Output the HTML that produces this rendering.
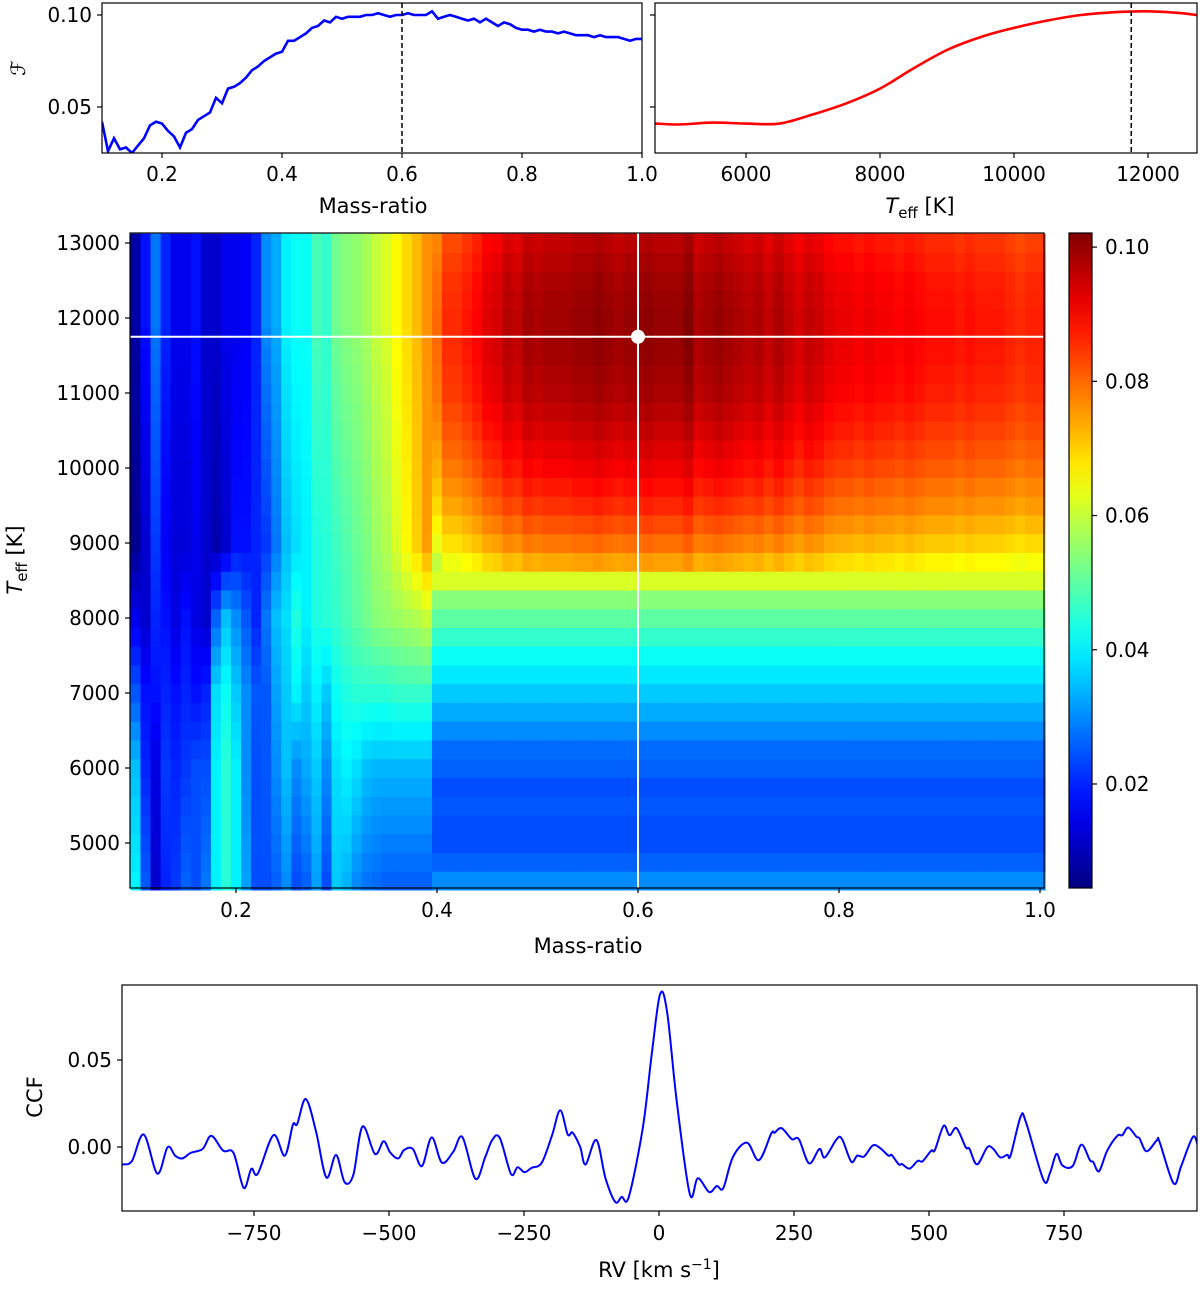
<!DOCTYPE html>
<html><head><meta charset="utf-8"><style>
html,body{margin:0;padding:0;background:#fff}
svg text{font-family:"DejaVu Sans","Liberation Sans",sans-serif;fill:#000}
</style></head><body>
<svg id="fig" width="1200" height="1284" viewBox="0 0 1200 1284" xmlns="http://www.w3.org/2000/svg"></svg>
<script>
// ---- top-left: F vs mass ratio ----
const qCurveQ=[0.10,0.11,0.12,0.13,0.14,0.15,0.16,0.17,0.18,0.19,0.20,0.21,0.22,0.23,0.24,0.25,0.26,0.27,0.28,0.29,0.30,0.31,0.32,0.33,0.34,0.35,0.36,0.37,0.38,0.39,0.40,0.41,0.42,0.43,0.44,0.45,0.46,0.47,0.48,0.49,0.50,0.51,0.52,0.53,0.54,0.55,0.56,0.57,0.58,0.59,0.60,0.61,0.62,0.63,0.64,0.65,0.66,0.67,0.68,0.69,0.70,0.71,0.72,0.73,0.74,0.75,0.76,0.77,0.78,0.79,0.80,0.81,0.82,0.83,0.84,0.85,0.86,0.87,0.88,0.89,0.90,0.91,0.92,0.93,0.94,0.95,0.96,0.97,0.98,0.99,1.00];
const qCurveF=[0.042,0.026,0.033,0.027,0.028,0.025,0.029,0.033,0.040,0.042,0.041,0.037,0.034,0.028,0.036,0.038,0.043,0.045,0.047,0.055,0.052,0.060,0.061,0.063,0.066,0.070,0.072,0.075,0.077,0.079,0.080,0.086,0.086,0.088,0.090,0.093,0.094,0.097,0.096,0.099,0.098,0.099,0.099,0.099,0.100,0.100,0.101,0.100,0.099,0.100,0.100,0.101,0.100,0.100,0.100,0.102,0.098,0.099,0.100,0.099,0.098,0.097,0.098,0.096,0.098,0.096,0.094,0.096,0.095,0.093,0.092,0.092,0.091,0.092,0.091,0.091,0.090,0.091,0.090,0.089,0.089,0.089,0.088,0.089,0.088,0.088,0.088,0.087,0.086,0.087,0.087];
// ---- top-right: F vs Teff ----
const tCurveT=[4650,5000,5500,6000,6500,7000,7500,8000,8500,9000,9500,10000,10500,11000,11500,12000,12500,13000];
const tCurveF=[0.041,0.0405,0.0415,0.041,0.041,0.046,0.052,0.060,0.071,0.081,0.088,0.093,0.097,0.100,0.1015,0.102,0.101,0.0985];
// ---- heatmap: low mass-ratio columns (q 0.10..0.39) at anchor temperatures ----
const anchorT=[4500,6000,7000,8000,9000,12000,13000];
const colAt4500=[0.040,0.025,0.012,0.020,0.022,0.026,0.024,0.028,0.040,0.045,0.040,0.032,0.024,0.024,0.026,0.030,0.024,0.026,0.032,0.024,0.036,0.034,0.030,0.028,0.027,0.026,0.026,0.026,0.026,0.026];
const colAt6000=[0.035,0.020,0.014,0.022,0.020,0.022,0.024,0.024,0.040,0.045,0.040,0.030,0.024,0.025,0.030,0.035,0.030,0.033,0.036,0.030,0.038,0.040,0.038,0.035,0.034,0.034,0.034,0.034,0.034,0.034];
const colAt7000=[0.025,0.018,0.018,0.020,0.018,0.020,0.018,0.020,0.038,0.042,0.036,0.030,0.025,0.025,0.032,0.036,0.040,0.036,0.040,0.036,0.042,0.044,0.045,0.045,0.045,0.045,0.046,0.046,0.046,0.046];
const colAt8000=[0.015,0.012,0.020,0.018,0.014,0.018,0.014,0.012,0.026,0.035,0.030,0.025,0.020,0.028,0.035,0.038,0.044,0.040,0.044,0.045,0.046,0.048,0.050,0.052,0.054,0.055,0.056,0.057,0.058,0.060];
const colAt9000=[0.006,0.012,0.022,0.016,0.013,0.013,0.015,0.012,0.009,0.012,0.018,0.018,0.020,0.022,0.028,0.035,0.038,0.040,0.044,0.045,0.047,0.049,0.051,0.053,0.056,0.058,0.062,0.066,0.070,0.075];
const colAt12000=[0.008,0.018,0.028,0.020,0.015,0.015,0.018,0.012,0.012,0.015,0.015,0.016,0.020,0.030,0.033,0.040,0.042,0.042,0.048,0.046,0.052,0.054,0.055,0.057,0.060,0.062,0.066,0.069,0.072,0.076];
// ---- heatmap: low-Teff rows for q >= 0.40 ----
const lowRowT=[4500,4750,5000,5250,5500,5750,6000,6250,6500,6750,7000,7250,7500,7750,8000,8250,8500];
const lowRowF=[0.030,0.026,0.024,0.024,0.025,0.024,0.026,0.027,0.030,0.033,0.036,0.039,0.042,0.046,0.050,0.054,0.062];
const bestQ=0.6, bestT=11750;
// ---- CCF ----
const rvVals=[-995,-992,-976,-954,-929,-910,-896,-883,-867,-845,-829,-807,-788,-769,-755,-743,-714,-693,-678,-670,-654,-635,-616,-598,-582,-566,-549,-526,-510,-498,-483,-472,-456,-439,-421,-402,-381,-364,-340,-322,-309,-295,-274,-262,-249,-236,-217,-198,-183,-169,-160,-146,-136,-116,-99,-81,-69,-56,-30,-13,2,15,33,57,72,93,107,119,137,163,185,208,214,227,246,259,278,297,307,329,339,356,367,380,396,409,425,431,444,450,464,479,488,504,511,527,538,551,568,575,589,608,619,632,645,651,670,680,712,724,736,747,766,782,798,804,815,830,849,858,869,884,890,903,922,927,953,967,989,999];
const ccfVals=[-0.010,-0.0100,-0.0080,0.0072,-0.0153,-0.0001,-0.0050,-0.0066,-0.0034,-0.0011,0.0065,-0.0021,-0.0034,-0.0235,-0.0126,-0.0153,0.0068,-0.0050,0.0128,0.0132,0.0276,0.0088,-0.0175,-0.0046,-0.0203,-0.0159,0.0118,-0.0040,0.0033,-0.0031,-0.0066,-0.0017,-0.0011,-0.0110,0.0055,-0.0090,-0.0027,0.0057,-0.0183,-0.0060,0.0039,0.0053,-0.0155,-0.0116,-0.0145,-0.0120,-0.0090,0.0068,0.0211,0.0072,0.0082,0.0,-0.0100,0.0040,-0.0180,-0.0316,-0.0287,-0.0287,0.0110,0.0546,0.0879,0.0776,0.0259,-0.0270,-0.0180,-0.0259,-0.0224,-0.0236,-0.0057,0.0025,-0.0076,0.0078,0.0082,0.0108,0.0045,0.0045,-0.0094,-0.0011,-0.0060,0.0045,0.0045,-0.0084,-0.0050,-0.0054,0.0009,-0.0005,-0.0050,-0.0046,-0.0100,-0.0098,-0.0124,-0.0080,-0.0082,-0.0021,-0.0017,0.0122,0.0068,0.0108,-0.0001,-0.0011,-0.0100,-0.0001,-0.0011,-0.0060,-0.0044,-0.0050,0.0177,0.0138,-0.0189,-0.0149,-0.0040,-0.0106,-0.0110,0.0013,-0.0076,-0.0086,-0.0139,-0.0021,0.0065,0.0068,0.0112,0.0059,0.0049,-0.0025,0.0039,0.0029,-0.0209,-0.0110,0.0059,-0.0011];

const svg=document.getElementById('fig');
const NS='http://www.w3.org/2000/svg';
function mk(tag,attrs,parent){const e=document.createElementNS(NS,tag);for(const k in attrs)e.setAttribute(k,attrs[k]);(parent||svg).appendChild(e);return e;}
function txt(s,x,y,anchor,size,parent,rot){const t=mk('text',{x:x,y:y,'text-anchor':anchor,'font-size':size},parent);if(rot)t.setAttribute('transform','rotate(-90 '+x+' '+y+')');t.textContent=s;return t;}
function lin(d0,d1,p0,p1){return v=>p0+(v-d0)*(p1-p0)/(d1-d0);}
function interp(xs,ys,x){if(x<=xs[0])return ys[0];for(let i=1;i<xs.length;i++){if(x<=xs[i]){const t=(x-xs[i-1])/(xs[i]-xs[i-1]);return ys[i-1]+t*(ys[i]-ys[i-1]);}}return ys[ys.length-1];}
function jet(t){t=Math.max(0,Math.min(1,t));const c=v=>Math.round(255*Math.max(0,Math.min(1,v)));return 'rgb('+c(1.5-Math.abs(4*t-3))+','+c(1.5-Math.abs(4*t-2))+','+c(1.5-Math.abs(4*t-1))+')';}
function smoothPath(pts){let d='M'+pts[0][0].toFixed(1)+','+pts[0][1].toFixed(1);for(let i=0;i<pts.length-1;i++){const p0=pts[Math.max(0,i-1)],p1=pts[i],p2=pts[i+1],p3=pts[Math.min(pts.length-1,i+2)];const c1=[p1[0]+(p2[0]-p0[0])/6,p1[1]+(p2[1]-p0[1])/6],c2=[p2[0]-(p3[0]-p1[0])/6,p2[1]-(p3[1]-p1[1])/6];d+='C'+c1[0].toFixed(1)+','+c1[1].toFixed(1)+' '+c2[0].toFixed(1)+','+c2[1].toFixed(1)+' '+p2[0].toFixed(1)+','+p2[1].toFixed(1);}return d;}

// ===== Panel 1 =====
const p1=mk('g',{});


const X1=lin(0.1,1.0,102,642), Y1=lin(0.05,0.10,107,15);
let cp=mk('clipPath',{id:'c1'},p1);mk('rect',{x:102,y:3,width:540,height:150},cp);
const l1=mk('polyline',{points:qCurveQ.map((q,i)=>X1(q).toFixed(1)+','+Y1(qCurveF[i]).toFixed(1)).join(' '),fill:'none',stroke:'#0000ff','stroke-width':2.6,'clip-path':'url(#c1)'},p1);


const d1=mk('line',{x1:X1(bestQ),x2:X1(bestQ),y1:3,y2:153,stroke:'#000','stroke-width':1.5,'stroke-dasharray':'5,3'},p1);


mk('rect',{x:102,y:3,width:540,height:150,fill:'none',stroke:'#000','stroke-width':1.2},p1);
[0.2,0.4,0.6,0.8,1.0].forEach(v=>{const x=X1(v);mk('line',{x1:x,x2:x,y1:153,y2:158,stroke:'#000','stroke-width':1.2},p1);const t=txt(v.toFixed(1),x,181,'middle',20,p1);});
[[0.05,'0.05'],[0.10,'0.10']].forEach(([v,s])=>{const y=Y1(v);mk('line',{x1:97,x2:102,y1:y,y2:y,stroke:'#000','stroke-width':1.2},p1);const t=txt(s,92,y+7,'end',20,p1);});
let t1=txt('Mass-ratio',373,213,'middle',21,p1);
let t1y=txt('ℱ',25,68,'middle',20,p1,true);t1y.setAttribute('font-style','italic');

// ===== Panel 2 =====
const p2=mk('g',{});


const X2=lin(6000,12000,746,1148);
cp=mk('clipPath',{id:'c2'},p2);mk('rect',{x:655,y:3,width:542,height:150},cp);
const l2=mk('path',{d:smoothPath(tCurveT.map((t,i)=>[X2(t),Y1(tCurveF[i])])),fill:'none',stroke:'#ff0000','stroke-width':2.6,'clip-path':'url(#c2)'},p2);


const d2=mk('line',{x1:X2(bestT),x2:X2(bestT),y1:3,y2:153,stroke:'#000','stroke-width':1.5,'stroke-dasharray':'5,3'},p2);


mk('rect',{x:655,y:3,width:542,height:150,fill:'none',stroke:'#000','stroke-width':1.2},p2);
[6000,8000,10000,12000].forEach(v=>{const x=X2(v);mk('line',{x1:x,x2:x,y1:153,y2:158,stroke:'#000','stroke-width':1.2},p2);const t=txt(String(v),x,181,'middle',20,p2);});
[0.05,0.10].forEach(v=>{const y=Y1(v);mk('line',{x1:650,x2:655,y1:y,y2:y,stroke:'#000','stroke-width':1.2},p2);});
let t2=mk('text',{x:920,y:213,'text-anchor':'middle','font-size':21},p2);
t2.innerHTML='<tspan font-style="italic">T</tspan><tspan font-size="15" dy="5">eff</tspan><tspan dy="-5"> [K]</tspan>';


// ===== Heatmap =====
const p3=mk('g',{});


const X3=lin(0.6,1.0,638,1040), Y3=lin(5000,13000,843,243);
const vmin=0.0045,vmax=0.1021;
function cellVal(q,T){
  const i=Math.round((q-0.10)*100);
  if(i<colAt4500.length){
    return interp(anchorT,[colAt4500[i],colAt6000[i],colAt7000[i],colAt8000[i],colAt9000[i],colAt12000[i],colAt12000[i]],T);
  }
  if(T>=8750){return interp(qCurveQ,qCurveF,q)*interp(tCurveT,tCurveF,T)/0.102;}
  return interp(lowRowT,lowRowF,T);
}
const cells=mk('g',{},p3);
for(let i=0;i<qCurveQ.length;i++){const q=qCurveQ[i];
  for(let T=4500;T<=13000;T+=250){
    const x0=X3(q-0.005),x1=X3(q+0.005),y0=Y3(T+125),y1=Y3(T-125);
    const r=mk('rect',{x:x0.toFixed(2),y:y0.toFixed(2),width:(x1-x0+0.6).toFixed(2),height:(y1-y0+0.6).toFixed(2),fill:jet((cellVal(q,T)-vmin)/(vmax-vmin))},cells);
    
    
  }}
const hx=X3(bestQ),hy=Y3(bestT);
mk('line',{x1:X3(0.0945),x2:X3(1.004),y1:hy,y2:hy,stroke:'#fff','stroke-width':2},p3);
mk('line',{x1:hx,x2:hx,y1:233,y2:888,stroke:'#fff','stroke-width':2},p3);
const dot=mk('circle',{cx:hx,cy:hy,r:7,fill:'#fff'},p3);


mk('rect',{x:130,y:233,width:914,height:655,fill:'none',stroke:'#000','stroke-width':1.2},p3);
[0.2,0.4,0.6,0.8,1.0].forEach(v=>{const x=X3(v);mk('line',{x1:x,x2:x,y1:888,y2:893,stroke:'#000','stroke-width':1.2},p3);const t=txt(v.toFixed(1),x,917,'middle',20,p3);});
for(let v=5000;v<=13000;v+=1000){const y=Y3(v);mk('line',{x1:125,x2:130,y1:y,y2:y,stroke:'#000','stroke-width':1.2},p3);const t=txt(String(v),120,y+7,'end',20,p3);}
let t3=txt('Mass-ratio',588,953,'middle',21,p3);
let t3y=mk('text',{x:22,y:560,'text-anchor':'middle','font-size':21,transform:'rotate(-90 22 560)'},p3);
t3y.innerHTML='<tspan font-style="italic">T</tspan><tspan font-size="15" dy="5">eff</tspan><tspan dy="-5"> [K]</tspan>';

// colorbar
const cb=mk('g',{},p3);


const defs=mk('defs',{},cb);const gr=mk('linearGradient',{id:'jg',x1:0,y1:1,x2:0,y2:0},defs);
for(let k=0;k<=20;k++)mk('stop',{offset:(k/20),'stop-color':jet(k/20)},gr);
mk('rect',{x:1069,y:233,width:23,height:655,fill:'url(#jg)',stroke:'#000','stroke-width':1.2},cb);
const YC=lin(vmin,vmax,888,233);
[0.02,0.04,0.06,0.08,0.10].forEach(v=>{const y=YC(v);mk('line',{x1:1092,x2:1097,y1:y,y2:y,stroke:'#000','stroke-width':1.2},cb);const t=txt(v.toFixed(2),1105,y+7,'start',20,cb);});

// ===== CCF =====
const p4=mk('g',{});


const X4=lin(-750,750,254,1064), Y4=lin(0,0.05,1147,1060);
cp=mk('clipPath',{id:'c4'},p4);mk('rect',{x:122,y:985,width:1075,height:226},cp);
const l4=mk('path',{d:smoothPath(rvVals.map((r,i)=>[X4(r),Y4(ccfVals[i])])),fill:'none',stroke:'#0000ff','stroke-width':2,'clip-path':'url(#c4)'},p4);


mk('rect',{x:122,y:985,width:1075,height:226,fill:'none',stroke:'#000','stroke-width':1.2},p4);
[-750,-500,-250,0,250,500,750].forEach(v=>{const x=X4(v);mk('line',{x1:x,x2:x,y1:1211,y2:1216,stroke:'#000','stroke-width':1.2},p4);const t=txt(v<0?'−'+Math.abs(v):String(v),x,1240,'middle',20,p4);});
[[0,'0.00'],[0.05,'0.05']].forEach(([v,s])=>{const y=Y4(v);mk('line',{x1:117,x2:122,y1:y,y2:y,stroke:'#000','stroke-width':1.2},p4);const t=txt(s,112,y+7,'end',20,p4);});
let t4=mk('text',{x:659,y:1277,'text-anchor':'middle','font-size':21},p4);
t4.innerHTML='RV [km s<tspan font-size="14" dy="-8">−1</tspan><tspan dy="8">]</tspan>';

let t4y=txt('CCF',42,1097,'middle',21,p4,true);
</script>
</body></html>
